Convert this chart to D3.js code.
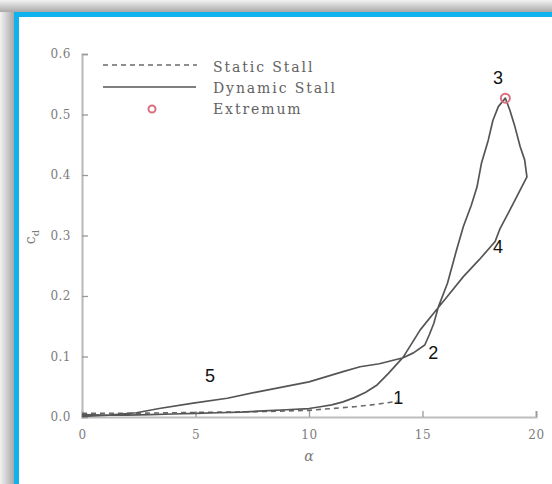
<!DOCTYPE html>
<html>
<head>
<meta charset="utf-8">
<script src="https://cdn.jsdelivr.net/npm/d3@7"></script>
<style>
  body { margin: 0; background: #fff; }
  svg { display: block; }
  .tick text { font-family: "DejaVu Serif", serif; font-size: 12px; fill: #7c7c7c; letter-spacing: 0.5px; }
  .legend text { font-family: "DejaVu Serif", serif; font-size: 14px; fill: #626262; letter-spacing: 1.9px; }
  .note { font-family: "Liberation Sans", Arial, sans-serif; font-size: 18px; fill: #111; }
</style>
</head>
<body>
<script>
//static stall curve
var staticAlpha = [0, 2, 4, 6, 8, 10, 11, 12, 13, 13.9];
var staticCd = [0.006, 0.006, 0.007, 0.008, 0.009, 0.011, 0.014, 0.017, 0.021, 0.026];

//dynamic stall loop, in order round the loop
var dynAlpha = [0, 1, 2, 3, 4, 5, 6, 7, 8, 9, 10, 10.5, 11, 11.5, 12, 12.5, 13, 13.5, 14.15, 14.9,
    15.5, 16.2, 16.8, 17.5, 18.2, 18.4, 19.0, 19.6, 19.5, 19.3, 19.07, 18.85, 18.65,
    18.34, 18.1, 17.9, 17.6, 17.4, 17.15, 16.8, 16.5, 16.1, 15.7, 15.5, 15.3, 15.1, 14.6,
    14.15, 13.1, 12.25, 11.5, 10, 7.8, 6.4, 4.9, 3.4, 2.4, 1.2, 0];
var dynCd = [0.004, 0.003, 0.003, 0.004, 0.005, 0.006, 0.007, 0.008, 0.010, 0.012, 0.014, 0.017, 0.020, 0.025, 0.032, 0.041, 0.053, 0.072, 0.099, 0.144,
    0.172, 0.204, 0.232, 0.260, 0.290, 0.310, 0.353, 0.397, 0.425, 0.447, 0.480, 0.507, 0.527,
    0.513, 0.490, 0.458, 0.420, 0.380, 0.350, 0.315, 0.276, 0.221, 0.182, 0.155, 0.136, 0.119, 0.106,
    0.098, 0.088, 0.083, 0.075, 0.058, 0.042, 0.031, 0.023, 0.014, 0.007, 0.003, 0.001];

//extremum marker
var extremum = [18.65, 0.527];

//numbered notes
var noteText = ["1", "2", "3", "4", "5"];
var noteAlpha = [13.93, 15.47, 18.33, 18.33, 5.64];
var noteCd = [0.031, 0.105, 0.560, 0.281, 0.067];

var xTicks = [0, 5, 10, 15, 20];
var yTicks = [0, 0.1, 0.2, 0.3, 0.4, 0.5, 0.6];
var legendNames = ["Static Stall", "Dynamic Stall", "Extremum"];

var width = 552,
    height = 484;

var svg = d3.select("body")
    .append("svg")
    .attr("width", width)
    .attr("height", height);

//shadow and blue frame
var defs = svg.append("defs");
var gTop = defs.append("linearGradient").attr("id", "shTop").attr("x1", 0).attr("y1", 0).attr("x2", 0).attr("y2", 1);
gTop.append("stop").attr("offset", "0%").attr("stop-color", "#f2f2f2");
gTop.append("stop").attr("offset", "100%").attr("stop-color", "#a9a9a9");
var gLeft = defs.append("linearGradient").attr("id", "shLeft").attr("x1", 0).attr("y1", 0).attr("x2", 1).attr("y2", 0);
gLeft.append("stop").attr("offset", "0%").attr("stop-color", "#f2f2f2");
gLeft.append("stop").attr("offset", "100%").attr("stop-color", "#a9a9a9");

svg.append("rect").attr("x", 0).attr("y", 0).attr("width", width).attr("height", 12).attr("fill", "url(#shTop)");
svg.append("rect").attr("x", 0).attr("y", 12).attr("width", 14).attr("height", height).attr("fill", "url(#shLeft)");
svg.append("rect").attr("x", 14).attr("y", 12).attr("width", width - 14).attr("height", 5).attr("fill", "#10b2ee");
svg.append("rect").attr("x", 14).attr("y", 12).attr("width", 5).attr("height", height).attr("fill", "#10b2ee");

//scales
var x = d3.scaleLinear().domain([0, 20]).range([82, 536]);
var y = d3.scaleLinear().domain([0, 0.6]).range([417, 54]);

//axes
var xAxis = svg.append("g")
    .attr("transform", "translate(0," + y(0) + ")")
    .call(d3.axisBottom(x).tickValues(xTicks).tickSize(-6).tickPadding(13).tickFormat(d3.format("d")));
var yAxis = svg.append("g")
    .attr("transform", "translate(" + x(0) + ",0)")
    .call(d3.axisLeft(y).tickValues(yTicks).tickSize(-6).tickPadding(11).tickFormat(d3.format(".1f")));
svg.selectAll(".domain").attr("stroke", "#bdbdbd").attr("stroke-width", 2.2);
svg.selectAll(".tick line").attr("stroke", "#9a9a9a").attr("stroke-width", 1.3);

//axis titles
svg.append("text")
    .attr("x", 309).attr("y", 461)
    .attr("text-anchor", "middle")
    .style("font-family", "DejaVu Serif, serif").style("font-style", "italic")
    .style("font-size", "14px").style("fill", "#7c7c7c")
    .text("α");
var yt = svg.append("text")
    .attr("transform", "translate(35,237) rotate(-90)")
    .attr("text-anchor", "middle")
    .style("font-family", "DejaVu Serif, serif")
    .style("font-size", "14px").style("fill", "#7c7c7c");
yt.append("tspan").text("c");
yt.append("tspan").attr("dy", 4).style("font-size", "10px").text("d");

//curves
var line = d3.line()
    .x(function(d){ return x(d[0]); })
    .y(function(d){ return y(d[1]); });

svg.append("path")
    .datum(d3.zip(staticAlpha, staticCd))
    .attr("d", line)
    .attr("fill", "none")
    .attr("stroke", "#6a6a6a")
    .attr("stroke-width", 1.6)
    .attr("stroke-dasharray", "5,4");

svg.append("path")
    .datum(d3.zip(dynAlpha, dynCd))
    .attr("d", line)
    .attr("fill", "none")
    .attr("stroke", "#555")
    .attr("stroke-width", 1.7)
    .attr("stroke-linejoin", "round");

svg.append("circle")
    .attr("cx", x(extremum[0])).attr("cy", y(extremum[1]))
    .attr("r", 4.5)
    .attr("fill", "none")
    .attr("stroke", "#d9707f")
    .attr("stroke-width", 2);

//numbers
svg.selectAll(".note")
    .data(noteText)
    .enter()
    .append("text")
    .attr("class", "note")
    .attr("x", function(d, i){ return x(noteAlpha[i]); })
    .attr("y", function(d, i){ return y(noteCd[i]); })
    .attr("text-anchor", "middle")
    .attr("dominant-baseline", "central")
    .text(function(d){ return d; });

//legend
var legend = svg.append("g").attr("class", "legend");
legend.append("line").attr("x1", 103).attr("x2", 197).attr("y1", 65).attr("y2", 65)
    .attr("stroke", "#6a6a6a").attr("stroke-width", 1.6).attr("stroke-dasharray", "5,4");
legend.append("line").attr("x1", 103).attr("x2", 196).attr("y1", 87).attr("y2", 87)
    .attr("stroke", "#555").attr("stroke-width", 1.7);
legend.append("circle").attr("cx", 152).attr("cy", 109).attr("r", 3.5)
    .attr("fill", "none").attr("stroke", "#d9707f").attr("stroke-width", 2);
legend.selectAll("text")
    .data(legendNames)
    .enter()
    .append("text")
    .attr("x", 213)
    .attr("y", function(d, i){ return 72 + i * 21; })
    .text(function(d){ return d; });
</script>
</body>
</html>
